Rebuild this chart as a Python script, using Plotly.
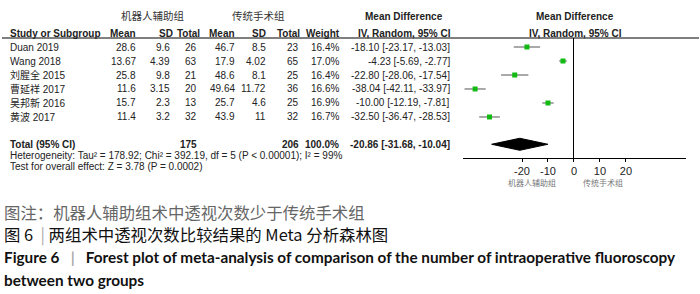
import plotly.graph_objects as go

# ---------------- data ----------------
studies = ["Duan 2019", "Wang 2018", "刘腥全 2015", "曹延祥 2017", "吴邦新 2016", "黄波 2017"]
robot_mean = ["28.6", "13.67", "25.8", "11.6", "15.7", "11.4"]
robot_sd = ["9.6", "4.39", "9.8", "3.15", "2.3", "3.2"]
robot_n = [26, 63, 21, 20, 13, 32]
trad_mean = ["46.7", "17.9", "48.6", "49.64", "25.7", "43.9"]
trad_sd = ["8.5", "4.02", "8.1", "11.72", "4.6", "11"]
trad_n = [23, 65, 25, 36, 25, 32]
weights = ["16.4%", "17.0%", "16.4%", "16.6%", "16.9%", "16.7%"]
md = [-18.10, -4.23, -22.80, -38.04, -10.00, -32.50]
ci_lo = [-23.17, -5.69, -28.06, -42.11, -12.19, -36.47]
ci_hi = [-13.03, -2.77, -17.54, -33.97, -7.81, -28.53]
total_robot_n = 175
total_trad_n = 206
total_weight = "100.0%"
total_md = -20.86
total_lo = -31.68
total_hi = -10.04
heterogeneity = "Heterogeneity: Tau² = 178.92; Chi² = 392.19, df = 5 (P < 0.00001); I² = 99%"
overall = "Test for overall effect: Z = 3.78 (P = 0.0002)"
x_ticks = [-20, -10, 0, 10, 20]
group_robot = "机器人辅助组"
group_trad = "传统手术组"
NB = "\u00a0"
caption1 = "图注：机器人辅助组术中透视次数少于传统手术组"
caption2 = "图 6" + NB + " <span style='color:#aaa'>|</span>" + NB + "两组术中透视次数比较结果的 Meta 分析森林图"
caption3 = "Figure 6" + NB + NB + " <span style='color:#aaa'>|</span>" + NB + NB + " Forest plot of meta-analysis of comparison of the number of intraoperative fluoroscopy"
caption4 = "between two groups"

# ---------------- layout helpers ----------------
W, H = 700, 294
def px(x):
    return x / W
def py(y):
    return 1 - y / H

row_y = list(range(len(studies)))
total_y = 6.95

TXT = "#222222"
FONT = "Liberation Sans, Arial, sans-serif"
CJK = "Noto Sans CJK SC, sans-serif"

fig = go.Figure()

# CI lines + squares
fig.add_trace(go.Scatter(
    x=md, y=row_y, mode="markers",
    marker=dict(symbol="square", size=5, color="#11bb11", line=dict(width=0)),
    error_x=dict(type="data", symmetric=False,
                 array=[h - m for h, m in zip(ci_hi, md)],
                 arrayminus=[m - l for m, l in zip(md, ci_lo)],
                 color="#555555", thickness=1, width=0),
    showlegend=False, hoverinfo="skip"))

# diamond
dh = 0.43
fig.add_trace(go.Scatter(
    x=[total_lo, total_md, total_hi, total_md, total_lo],
    y=[total_y, total_y - dh, total_y, total_y + dh, total_y],
    mode="lines", fill="toself", fillcolor="black",
    line=dict(color="black", width=1), showlegend=False, hoverinfo="skip"))

fig.update_layout(
    width=W, height=H, margin=dict(l=0, r=0, t=0, b=0),
    paper_bgcolor="white", plot_bgcolor="white",
    xaxis=dict(domain=[px(463), px(686)], range=[-42.7, 43.1],
               tickvals=x_ticks, ticktext=[str(t) for t in x_ticks],
               ticks="outside", ticklen=3, tickcolor="black",
               showline=True, linecolor="black", linewidth=1,
               showgrid=False, zeroline=True, zerolinecolor="black", zerolinewidth=1,
               tickfont=dict(family=FONT, size=11, color=TXT)),
    yaxis=dict(domain=[py(158), py(38)], range=[7.93, -0.643],
               visible=False, showgrid=False, zeroline=False),
)

ann = []
def add(text, x, y, anchor="right", yref="y", size=10, color=TXT, family=FONT, bold=False):
    if bold:
        text = "<b>" + text + "</b>"
    ann.append(dict(text=text, x=x, y=y, xref="paper", yref=yref,
                    xanchor=anchor, yanchor="middle", showarrow=False,
                    font=dict(size=size, color=color, family=family)))

# header rows
add(group_robot, px(153), py(16), "center", "paper", 10.5, "#333", CJK)
add(group_trad, px(258), py(16), "center", "paper", 10.5, "#333", CJK)
add("Mean Difference", px(404), py(17), "center", "paper", 10, TXT, FONT, True)
add("Mean Difference", px(575), py(17), "center", "paper", 10, TXT, FONT, True)
add("IV, Random, 95% CI", px(404), py(33), "center", "paper", 10, TXT, FONT, True)
add("IV, Random, 95% CI", px(575), py(33), "center", "paper", 10, TXT, FONT, True)
add("Study or Subgroup", px(8), py(33), "left", "paper", 10, TXT, FONT, True)
for label, xr in [("Mean", 138), ("SD", 175), ("Total", 202), ("Mean", 237),
                  ("SD", 268), ("Total", 302), ("Weight", 342)]:
    add(label, px(xr), py(33), "right", "paper", 10, TXT, FONT, True)

# study rows
for i, s in enumerate(studies):
    y = row_y[i]
    add(s, px(8), y, "left", "y", 10, TXT, FONT + ", " + CJK)
    add(robot_mean[i], px(138), y)
    add(robot_sd[i], px(172), y)
    add(str(robot_n[i]), px(199), y)
    add(trad_mean[i], px(237), y)
    add(trad_sd[i], px(268), y)
    add(str(trad_n[i]), px(301), y)
    add(weights[i], px(341), y)
    add(f"{md[i]:.2f} [{ci_lo[i]:.2f}, {ci_hi[i]:.2f}]", px(452), y)

# total rows
add("Total (95% CI)", px(8), total_y, "left", "y", 10, TXT, FONT, True)
add(str(total_robot_n), px(199), total_y, bold=True)
add(str(total_trad_n), px(301), total_y, bold=True)
add(total_weight, px(341), total_y, bold=True)
add(f"{total_md:.2f} [{total_lo:.2f}, {total_hi:.2f}]", px(452), total_y, bold=True)
add(heterogeneity, px(8), py(155), "left", "paper", 10)
add(overall, px(8), py(166), "left", "paper", 10)

# axis favours labels
add(group_robot, px(532), py(182), "center", "paper", 8, "#777", CJK)
add(group_trad, px(603), py(182), "center", "paper", 8, "#777", CJK)

# caption
add(caption1, px(2), py(212), "left", "paper", 16.4, "#666", CJK)
add(caption2, px(2), py(234), "left", "paper", 16.4, "#111", CJK)
add(caption3, px(2), py(257), "left", "paper", 15.3, "#111", "Lato, sans-serif", True)
add(caption4, px(2), py(280), "left", "paper", 15.3, "#111", "Lato, sans-serif", True)

fig.update_layout(annotations=ann)

# header rule
fig.add_shape(type="line", xref="paper", yref="paper",
              x0=px(2), x1=px(699), y0=py(38), y1=py(38),
              line=dict(color="black", width=1))

fig.write_html("out.html", config=dict(displayModeBar=False, staticPlot=True),
               post_script="document.body.style.margin='0';document.body.style.overflow='hidden';")
